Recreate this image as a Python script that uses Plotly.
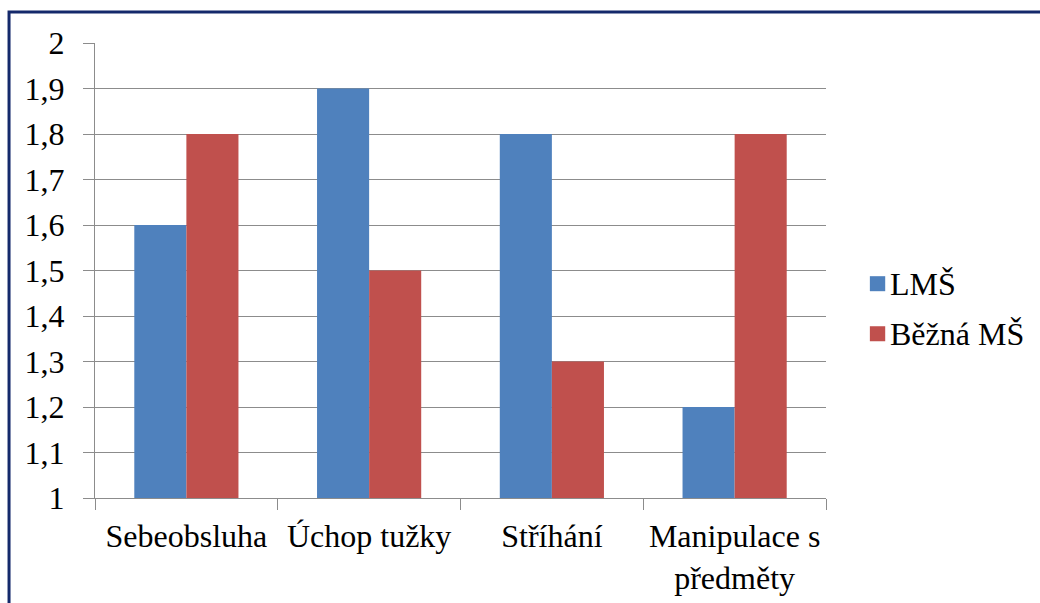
import plotly.graph_objects as go

categories = ["Sebeobsluha", "Úchop tužky", "Stříhání", "Manipulace s<br>předměty"]
lms_values = [1.6, 1.9, 1.8, 1.2]
bezna_values = [1.8, 1.5, 1.3, 1.8]
series_names = ["LMŠ", "Běžná MŠ"]
series_colors = ["#4F81BD", "#C0504D"]
y_ticks = [1.0, 1.1, 1.2, 1.3, 1.4, 1.5, 1.6, 1.7, 1.8, 1.9, 2.0]
y_tick_labels = ["1", "1,1", "1,2", "1,3", "1,4", "1,5", "1,6", "1,7", "1,8", "1,9", "2"]

FONT = "Liberation Serif"
FSIZE = 32
GRID = "#8c8c8c"

fig = go.Figure()
for name, vals, col in zip(series_names, [lms_values, bezna_values], series_colors):
    fig.add_trace(go.Bar(x=categories, y=vals, name=name,
                         marker=dict(color=col, line=dict(width=0))))

# Legend drawn beside the plot: a coloured square followed by the series name
legend_shapes = []
legend_notes = []
for i, (name, col) in enumerate(zip(series_names, series_colors)):
    yc = 0.471 - i * 0.11
    legend_shapes.append(dict(type="rect", xref="paper", yref="paper",
                              x0=1.060, x1=1.081, y0=yc - 0.0165, y1=yc + 0.0165,
                              fillcolor=col, line=dict(width=0), layer="above"))
    legend_notes.append(dict(xref="paper", yref="paper", x=1.085, y=yc,
                             xanchor="left", yanchor="middle", showarrow=False,
                             text=name, font=dict(family=FONT, size=FSIZE, color="black")))

fig.update_layout(
    width=1040, height=603,
    margin=dict(l=95, r=214, t=43, b=105),
    paper_bgcolor="white", plot_bgcolor="white",
    barmode="group", bargap=0.43, bargroupgap=0,
    font=dict(family=FONT, size=FSIZE, color="black"),
    showlegend=False,
    xaxis=dict(
        showline=True, linecolor=GRID, linewidth=1,
        ticks="outside", ticklen=11, tickcolor=GRID, tickwidth=1,
        tickson="boundaries", showgrid=False, ticklabelstandoff=10,
        automargin=False,
        tickfont=dict(family=FONT, size=FSIZE, color="black"),
    ),
    yaxis=dict(
        range=[1, 2], tickvals=y_ticks, ticktext=y_tick_labels,
        showline=True, linecolor=GRID, linewidth=1,
        ticks="outside", ticklen=11, tickcolor=GRID, tickwidth=1,
        showgrid=True, gridcolor=GRID, gridwidth=1,
        zeroline=False, ticklabelstandoff=12, automargin=False,
        tickfont=dict(family=FONT, size=FSIZE, color="black"),
    ),
    annotations=legend_notes,
    shapes=legend_shapes + [
        dict(type="rect", xref="paper", yref="paper",
             x0=-0.1176, x1=1.35, y0=-0.4, y1=1.068,
             line=dict(color="#14296b", width=3), fillcolor="rgba(0,0,0,0)",
             layer="above"),
    ],
)

fig.write_html("out.html")
